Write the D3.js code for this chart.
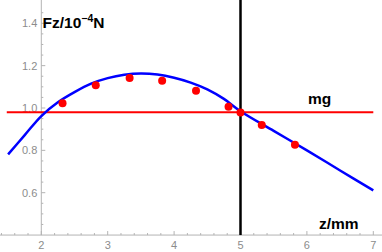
<!DOCTYPE html>
<html>
<head>
<meta charset="utf-8">
<script src="https://cdn.jsdelivr.net/npm/d3@7"></script>
<style>
  body { margin: 0; background: #fff; }
  text { font-family: "Liberation Sans", Arial, sans-serif; }
</style>
</head>
<body>
<svg id="chart" width="382" height="252"></svg>
<script>
// measured points (z in mm, Fz in 1e-4 N)
const pointZ = [2.32, 2.82, 3.33, 3.82, 4.33, 4.82, 5.0, 5.32, 5.82];
const pointF = [1.022, 1.107, 1.142, 1.129, 1.082, 1.006, 0.979, 0.92, 0.827];

// fitted curve
const curveZ = [1.5, 1.75, 2.0, 2.25, 2.5, 2.75, 3.0, 3.25, 3.5, 3.75, 4.0, 4.25, 4.5, 4.75, 5.0, 5.5, 6.0, 6.5, 7.0];
const curveF = [0.781, 0.872, 0.962, 1.027, 1.075, 1.115, 1.141, 1.157, 1.163, 1.158, 1.143, 1.12, 1.088, 1.043, 0.985, 0.892, 0.800, 0.705, 0.611];

const mgValue = 0.98;
const mgRange = [1.48, 7.0];
const markZ = 5;

const xTicks = [2, 3, 4, 5, 6, 7];
const yTicks = [0.6, 0.8, 1.0, 1.2, 1.4];

const svg = d3.select("#chart");
const width = +svg.attr("width");
const height = +svg.attr("height");

const x = d3.scaleLinear().domain([2, 7]).range([41.3, 373.3]);
const y = d3.scaleLinear().domain([0.6, 1.4]).range([192.7, 23.3]);

const originY = 0.4;
const axisColor = "#b3b3b3";
const labelColor = "#8c8c8c";

// axes lines
svg.append("line")
    .attr("x1", 0).attr("x2", width)
    .attr("y1", y(originY)).attr("y2", y(originY))
    .attr("stroke", axisColor).attr("stroke-width", 1);
svg.append("line")
    .attr("x1", x(2)).attr("x2", x(2))
    .attr("y1", 0).attr("y2", y(originY))
    .attr("stroke", axisColor).attr("stroke-width", 1);

// x ticks (major + minor every 0.2)
const xMinor = d3.range(1.4, 7.15, 0.2).filter(v => Math.abs(v - Math.round(v)) > 0.01);
svg.selectAll(".xminor").data(xMinor).enter().append("line")
    .attr("x1", d => x(d)).attr("x2", d => x(d))
    .attr("y1", y(originY)).attr("y2", y(originY) - 2)
    .attr("stroke", axisColor);
svg.selectAll(".xmajor").data(xTicks).enter().append("line")
    .attr("x1", d => x(d)).attr("x2", d => x(d))
    .attr("y1", y(originY)).attr("y2", y(originY) - 4)
    .attr("stroke", axisColor);
svg.selectAll(".xlabel").data(xTicks).enter().append("text")
    .attr("x", d => x(d))
    .attr("y", y(originY) + 14)
    .attr("text-anchor", "middle")
    .attr("font-size", 11)
    .attr("fill", labelColor)
    .text(d => d);

// y ticks (major + minor every 0.05)
const yMinor = d3.range(0.45, 1.5, 0.05).filter(v => Math.abs(v * 5 - Math.round(v * 5)) > 0.01);
svg.selectAll(".yminor").data(yMinor).enter().append("line")
    .attr("x1", x(2)).attr("x2", x(2) + 2)
    .attr("y1", d => y(d)).attr("y2", d => y(d))
    .attr("stroke", axisColor);
svg.selectAll(".ymajor").data(yTicks).enter().append("line")
    .attr("x1", x(2)).attr("x2", x(2) + 4)
    .attr("y1", d => y(d)).attr("y2", d => y(d))
    .attr("stroke", axisColor);
svg.selectAll(".ylabel").data(yTicks).enter().append("text")
    .attr("x", x(2) - 4)
    .attr("y", d => y(d))
    .attr("dy", "0.35em")
    .attr("text-anchor", "end")
    .attr("font-size", 11)
    .attr("fill", labelColor)
    .text(d => d.toFixed(1));

// vertical line at z = 5
svg.append("line")
    .attr("x1", x(markZ)).attr("x2", x(markZ))
    .attr("y1", 0).attr("y2", y(originY))
    .attr("stroke", "#000").attr("stroke-width", 2.5);

// mg line
svg.append("line")
    .attr("x1", x(mgRange[0])).attr("x2", x(mgRange[1]))
    .attr("y1", y(mgValue)).attr("y2", y(mgValue))
    .attr("stroke", "#ff0000").attr("stroke-width", 2);

// fit curve
const curveData = curveZ.map((z, i) => ({ z, f: curveF[i] }));
svg.append("path")
    .datum(curveData)
    .attr("fill", "none")
    .attr("stroke", "#0000ff")
    .attr("stroke-width", 2.5)
    .attr("d", d3.line().x(d => x(d.z)).y(d => y(d.f)).curve(d3.curveCatmullRom));

// data points
const pts = pointZ.map((z, i) => ({ z, f: pointF[i] }));
svg.selectAll(".pt").data(pts).enter().append("circle")
    .attr("cx", d => x(d.z))
    .attr("cy", d => y(d.f))
    .attr("r", 4)
    .attr("fill", "#ff0000");

// labels
const yLab = svg.append("text")
    .attr("x", 42.5).attr("y", 28)
    .attr("font-size", 15.5).attr("font-weight", "bold").attr("fill", "#000");
yLab.append("tspan").text("Fz/10");
yLab.append("tspan").attr("dy", -6).attr("font-size", 10.5).text("\u22124");
yLab.append("tspan").attr("dy", 6).text("N");

svg.append("text")
    .attr("x", 308).attr("y", 104)
    .attr("font-size", 15.5).attr("font-weight", "bold").attr("fill", "#000")
    .text("mg");

svg.append("text")
    .attr("x", 319).attr("y", 229)
    .attr("font-size", 15.5).attr("font-weight", "bold").attr("fill", "#000")
    .text("z/mm");
</script>
</body>
</html>
